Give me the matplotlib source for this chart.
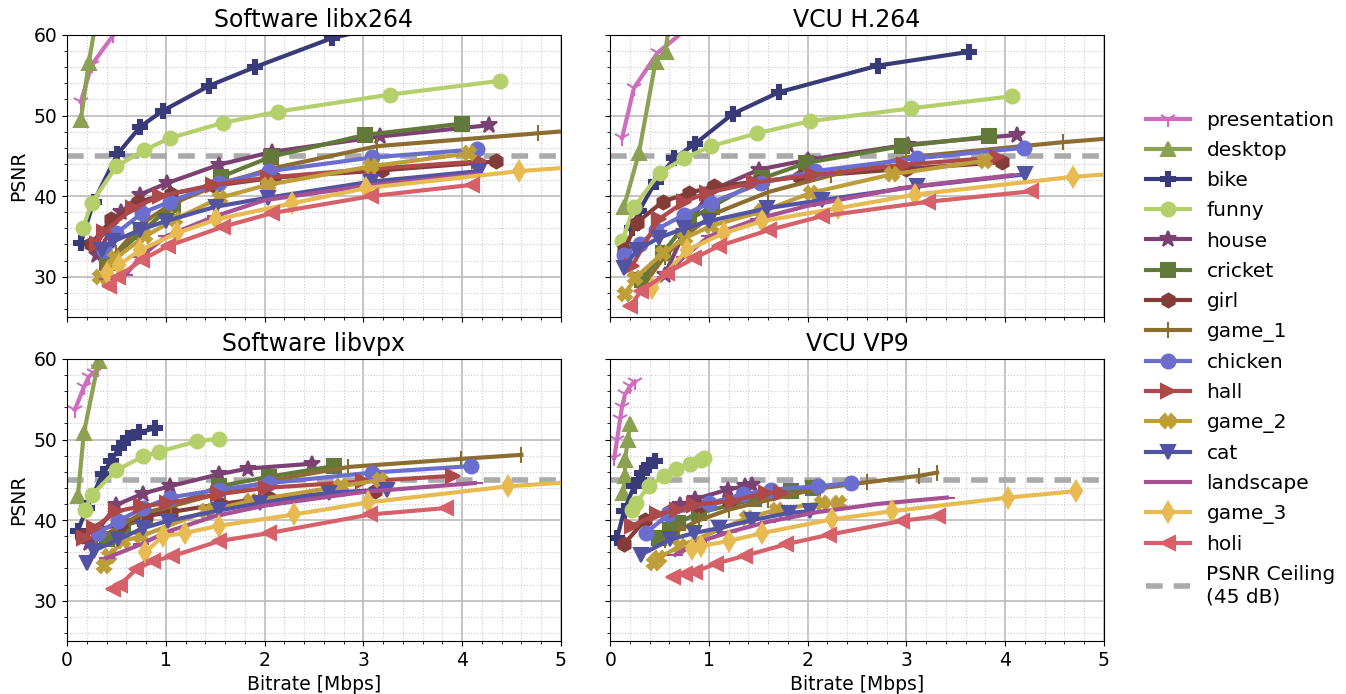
import matplotlib
matplotlib.use("Agg")
import matplotlib.pyplot as plt
from matplotlib.ticker import MultipleLocator

names = ["presentation", "desktop", "bike", "funny", "house", "cricket", "girl",
         "game_1", "chicken", "hall", "game_2", "cat", "landscape", "game_3", "holi"]
markers = ["1", "^", "P", "o", "*", "s", "h", "|", "o", ">", "X", "v", "_", "d", "<"]
colors = ["#ce6dbd", "#8ca252", "#393b79", "#b5cf6b", "#7b4173", "#637939", "#843c39",
          "#8c6d31", "#6b6ecf", "#ad494a", "#bd9e39", "#5254a3", "#a55194", "#e7ba52", "#d6616b"]

titles = ["Software libx264", "VCU H.264", "Software libvpx", "VCU VP9"]
psnr_ceiling = 45

# bitrate [Mbps], PSNR [dB] per sequence
libx264 = {
    "presentation": ([0.14, 0.25, 0.47, 0.6], [51.7, 56.3, 60.0, 62.0]),
    "desktop": ([0.14, 0.22, 0.35], [49.5, 56.5, 66.0]),
    "bike": ([0.14, 0.27, 0.51, 0.74, 0.97, 1.44, 1.90, 2.68, 3.5], [34.2, 39.3, 45.2, 48.6, 50.6, 53.7, 56.0, 59.6, 62.0]),
    "funny": ([0.16, 0.25, 0.50, 0.78, 1.04, 1.58, 2.14, 3.27, 4.38], [36.0, 39.2, 43.7, 45.7, 47.2, 49.1, 50.5, 52.6, 54.3]),
    "house": ([0.30, 0.55, 0.74, 1.01, 1.54, 2.08, 3.17, 4.27], [32.7, 38.0, 40.2, 41.6, 43.9, 45.5, 47.4, 48.8]),
    "cricket": ([0.40, 0.75, 1.07, 1.56, 2.07, 3.02, 4.0], [31.7, 35.5, 38.9, 42.4, 44.9, 47.6, 49.0]),
    "girl": ([0.24, 0.45, 0.72, 1.05, 1.50, 2.10, 3.19, 4.34], [34.0, 37.1, 39.3, 40.3, 41.3, 42.3, 43.2, 44.3]),
    "game_1": ([0.35, 0.50, 0.75, 1.05, 1.55, 2.10, 3.14, 4.77, 5.8], [31.0, 33.0, 36.5, 39.0, 41.5, 43.5, 46.2, 47.8, 48.8]),
    "chicken": ([0.37, 0.50, 0.76, 1.04, 1.54, 2.05, 3.09, 4.15], [33.3, 35.4, 37.9, 39.3, 41.6, 43.1, 44.8, 45.8]),
    "hall": ([0.30, 0.37, 0.67, 0.94, 1.48, 2.03, 3.10, 4.17], [34.0, 35.5, 38.5, 40.0, 41.4, 42.3, 43.4, 44.3]),
    "game_2": ([0.33, 0.49, 0.79, 1.09, 1.55, 2.03, 3.08, 4.07], [30.0, 32.3, 35.0, 37.1, 39.8, 41.4, 43.7, 45.3]),
    "cat": ([0.35, 0.47, 0.74, 1.00, 1.51, 2.03, 3.08, 4.17], [33.3, 34.4, 35.8, 36.9, 38.7, 39.8, 41.8, 43.1]),
    "landscape": ([0.40, 0.59, 0.75, 1.00, 1.50, 2.00, 3.10, 4.15], [29.7, 30.2, 32.5, 35.0, 37.5, 39.5, 41.4, 42.7]),
    "game_3": ([0.40, 0.53, 0.74, 1.11, 1.51, 2.28, 3.03, 4.58, 5.8], [30.5, 31.5, 33.3, 35.4, 37.1, 39.1, 41.0, 43.1, 44.2]),
    "holi": ([0.42, 0.52, 0.76, 1.02, 1.58, 2.08, 3.08, 4.10], [28.8, 30.0, 32.1, 33.8, 36.2, 37.9, 40.0, 41.4]),
}

vcu_h264 = {
    "presentation": ([0.12, 0.24, 0.48, 0.8], [47.2, 53.4, 57.8, 61.0]),
    "desktop": ([0.14, 0.29, 0.46, 0.56, 0.62], [38.7, 45.3, 56.7, 57.9, 64.0]),
    "bike": ([0.22, 0.29, 0.46, 0.65, 0.86, 1.24, 1.71, 2.71, 3.63], [36.0, 38.1, 41.8, 44.7, 46.5, 50.2, 52.9, 56.2, 57.9]),
    "funny": ([0.12, 0.24, 0.50, 0.75, 1.02, 1.49, 2.02, 3.05, 4.07], [34.4, 38.6, 42.9, 44.7, 46.2, 47.8, 49.3, 50.9, 52.4]),
    "house": ([0.55, 0.75, 1.00, 1.51, 2.00, 3.02, 4.12], [30.2, 35.5, 40.6, 43.3, 44.5, 46.4, 47.6]),
    "cricket": ([0.32, 0.53, 0.80, 1.03, 1.54, 1.98, 2.95, 3.84], [29.6, 32.9, 37.1, 38.7, 42.2, 44.1, 46.2, 47.4]),
    "girl": ([0.14, 0.27, 0.53, 0.80, 1.05, 1.50, 1.92, 3.00, 3.97], [33.3, 36.7, 39.3, 40.4, 41.2, 41.8, 42.4, 43.4, 44.2]),
    "game_1": ([0.40, 0.55, 0.75, 1.05, 1.60, 2.24, 3.00, 4.59, 5.5], [30.0, 32.5, 35.0, 37.8, 40.5, 42.6, 44.8, 46.7, 47.6]),
    "chicken": ([0.14, 0.30, 0.46, 0.75, 1.02, 1.53, 2.07, 3.11, 4.19], [32.7, 34.0, 35.8, 37.7, 39.2, 41.6, 43.1, 44.7, 46.0]),
    "hall": ([0.22, 0.49, 0.75, 0.98, 1.46, 2.05, 2.97, 3.92], [31.3, 37.1, 39.3, 40.4, 41.7, 42.6, 43.9, 44.8]),
    "game_2": ([0.15, 0.25, 0.53, 0.76, 1.02, 1.54, 2.03, 2.85, 3.80], [27.8, 29.8, 32.9, 34.8, 36.3, 38.1, 40.4, 42.7, 44.4]),
    "cat": ([0.14, 0.27, 0.49, 0.75, 1.00, 1.59, 2.14, 3.11, 4.20], [31.1, 33.3, 34.8, 36.0, 36.9, 38.5, 39.5, 41.2, 42.7]),
    "landscape": ([0.55, 0.75, 1.00, 1.50, 2.00, 3.00, 4.07], [30.0, 32.5, 35.0, 37.2, 38.8, 41.1, 42.6]),
    "game_3": ([0.42, 0.78, 1.15, 1.54, 2.31, 3.09, 4.69, 5.8], [28.6, 33.3, 35.4, 36.9, 38.5, 40.2, 42.4, 43.4]),
    "holi": ([0.20, 0.31, 0.58, 0.85, 1.10, 1.61, 2.14, 3.22, 4.26], [26.3, 28.2, 30.5, 32.3, 33.8, 35.8, 37.5, 39.3, 40.6]),
}

libvpx = {
    "presentation": ([0.08, 0.17, 0.22, 0.27, 0.31], [53.7, 56.5, 57.8, 58.3, 58.7]),
    "desktop": ([0.11, 0.17, 0.32, 0.40], [43.0, 50.8, 59.8, 64.0]),
    "bike": ([0.11, 0.20, 0.36, 0.45, 0.53, 0.62, 0.73, 0.89], [38.7, 41.5, 45.7, 47.4, 49.0, 50.2, 50.9, 51.4]),
    "funny": ([0.18, 0.25, 0.50, 0.77, 0.93, 1.32, 1.54], [41.2, 43.1, 46.2, 47.9, 48.5, 49.8, 50.1]),
    "house": ([0.22, 0.50, 0.77, 1.04, 1.54, 1.83, 2.48], [37.2, 41.9, 43.3, 44.2, 45.7, 46.4, 47.0]),
    "cricket": ([0.40, 0.57, 0.79, 1.01, 1.54, 2.05, 2.70], [37.6, 39.3, 40.1, 41.5, 44.2, 45.4, 46.7]),
    "girl": ([0.15, 0.30, 0.55, 0.80, 1.05, 1.55, 2.05, 3.12], [38.0, 38.8, 39.5, 40.5, 41.0, 42.0, 42.8, 43.6]),
    "game_1": ([0.30, 0.50, 0.75, 1.05, 1.60, 2.10, 2.85, 3.99, 4.60], [37.5, 39.0, 40.8, 41.7, 43.5, 45.0, 46.6, 47.6, 48.1]),
    "chicken": ([0.31, 0.52, 0.77, 1.04, 1.54, 2.05, 3.09, 4.09], [38.4, 39.9, 41.5, 42.8, 43.8, 44.6, 45.9, 46.7]),
    "hall": ([0.17, 0.27, 0.50, 0.75, 1.01, 1.53, 2.01, 3.00, 3.91], [37.8, 39.0, 41.1, 41.7, 42.1, 43.2, 44.0, 44.8, 45.5]),
    "game_2": ([0.37, 0.42, 0.57, 0.75, 1.41, 1.86, 2.77, 3.17], [34.3, 35.5, 37.4, 38.0, 41.1, 42.4, 44.2, 45.0]),
    "cat": ([0.20, 0.27, 0.52, 0.77, 1.02, 1.54, 1.95, 2.65, 3.24], [34.7, 36.2, 37.6, 39.0, 39.9, 41.2, 42.1, 43.4, 43.8]),
    "landscape": ([0.40, 0.75, 1.00, 1.50, 2.00, 3.00, 4.13], [35.3, 37.0, 38.5, 40.5, 41.8, 43.5, 44.6]),
    "game_3": ([0.79, 0.97, 1.19, 1.54, 2.30, 3.05, 4.47, 5.8], [36.0, 38.0, 38.4, 39.3, 40.7, 42.2, 44.2, 45.3]),
    "holi": ([0.47, 0.54, 0.70, 0.87, 1.06, 1.54, 2.05, 3.07, 3.84], [31.4, 32.0, 33.9, 34.9, 35.5, 37.4, 38.4, 40.7, 41.5]),
}

vcu_vp9 = {
    "presentation": ([0.04, 0.07, 0.10, 0.12, 0.15, 0.20, 0.25], [47.7, 50.0, 52.5, 54.1, 55.6, 56.6, 57.2]),
    "desktop": ([0.13, 0.15, 0.15, 0.18, 0.20], [43.4, 45.5, 47.5, 50.0, 51.9]),
    "bike": ([0.07, 0.14, 0.24, 0.29, 0.32, 0.39, 0.45], [37.8, 41.1, 44.2, 45.0, 45.9, 46.9, 47.4]),
    "funny": ([0.22, 0.26, 0.39, 0.54, 0.67, 0.81, 0.92, 0.95], [41.3, 42.1, 44.2, 45.5, 46.4, 47.0, 47.5, 47.7]),
    "house": ([0.55, 0.71, 0.86, 1.19, 1.36, 1.44], [40.5, 41.9, 42.6, 43.8, 44.2, 44.4]),
    "cricket": ([0.49, 0.61, 0.69, 0.90, 1.46, 1.83, 2.05], [37.8, 38.8, 39.7, 40.9, 42.6, 43.6, 44.0]),
    "girl": ([0.14, 0.35, 0.60, 0.90, 1.20], [37.0, 40.0, 41.0, 41.8, 42.4]),
    "game_1": ([0.55, 0.70, 0.90, 1.20, 1.60, 2.10, 2.60, 3.13, 3.31], [37.5, 38.8, 40.0, 41.3, 42.5, 43.9, 44.7, 45.5, 45.9]),
    "chicken": ([0.36, 0.59, 1.00, 1.34, 1.63, 2.10, 2.44], [38.4, 40.7, 42.1, 43.2, 43.8, 44.2, 44.6]),
    "hall": ([0.22, 0.47, 0.68, 0.85, 1.24, 1.58, 1.73], [39.3, 40.7, 41.3, 41.9, 42.4, 43.4, 43.4]),
    "game_2": ([0.44, 0.49, 0.71, 1.39, 1.69, 2.14, 2.32], [34.7, 35.3, 36.8, 40.3, 41.3, 42.1, 42.1]),
    "cat": ([0.31, 0.61, 0.85, 1.10, 1.44, 1.81, 2.02], [35.7, 37.6, 38.4, 39.0, 40.0, 40.9, 41.1]),
    "landscape": ([0.66, 0.90, 1.20, 1.60, 2.10, 2.70, 3.41], [35.7, 37.3, 38.5, 39.8, 41.0, 42.0, 42.8]),
    "game_3": ([0.83, 0.92, 1.20, 1.54, 2.25, 2.85, 4.03, 4.72], [36.4, 36.8, 37.4, 38.4, 40.1, 41.1, 42.8, 43.6]),
    "holi": ([0.64, 0.76, 0.86, 1.07, 1.37, 1.78, 2.22, 2.95, 3.32], [32.9, 33.3, 33.6, 34.6, 35.6, 37.0, 38.2, 39.9, 40.5]),
}

panels = [libx264, vcu_h264, libvpx, vcu_vp9]

plt.rcParams['font.family'] = ['DejaVu Sans']
fig, axes = plt.subplots(2, 2, figsize=(13.46, 6.94), dpi=100, sharex=True, sharey=True)
fig.subplots_adjust(left=0.0498, right=0.8202, top=0.9496, bottom=0.0764, wspace=0.1, hspace=0.149)

for ax, data, title in zip(axes.flat, panels, titles):
    for name, mk, col in zip(names, markers, colors):
        xs, ys = data[name]
        ms = 12 if mk in ("1", "|", "_", "*") else 10
        ax.plot(xs, ys, color=col, marker=mk, lw=3, ms=ms, mew=1.5, label=name)
    ax.axhline(psnr_ceiling, color="#aaaaaa", lw=4, ls=(0, (3, 2)), label="PSNR Ceiling\n(45 dB)", zorder=1)
    ax.set_title(title, fontsize=17)
    ax.set_xlim(0, 5)
    ax.set_ylim(25, 60)
    ax.xaxis.set_major_locator(MultipleLocator(1))
    ax.xaxis.set_minor_locator(MultipleLocator(0.2))
    ax.yaxis.set_major_locator(MultipleLocator(10))
    ax.yaxis.set_minor_locator(MultipleLocator(2))
    ax.grid(which="major", color="#bbbbbb", lw=1.2)
    ax.grid(which="minor", color="#cccccc", lw=0.8, ls=":")
    ax.set_axisbelow(True)
    ax.tick_params(labelsize=13.5)

for ax in axes[:, 0]:
    ax.set_ylabel("PSNR", fontsize=13.5)
for ax in axes[1, :]:
    ax.set_xlabel("Bitrate [Mbps]", fontsize=13.5)

handles, labels = axes[0, 0].get_legend_handles_labels()
fig.legend(handles, labels, loc="center left", bbox_to_anchor=(0.838, 0.483), frameon=False,
           fontsize=14.5, handlelength=2.2, labelspacing=0.55)

fig.savefig("out.png", dpi=100)
